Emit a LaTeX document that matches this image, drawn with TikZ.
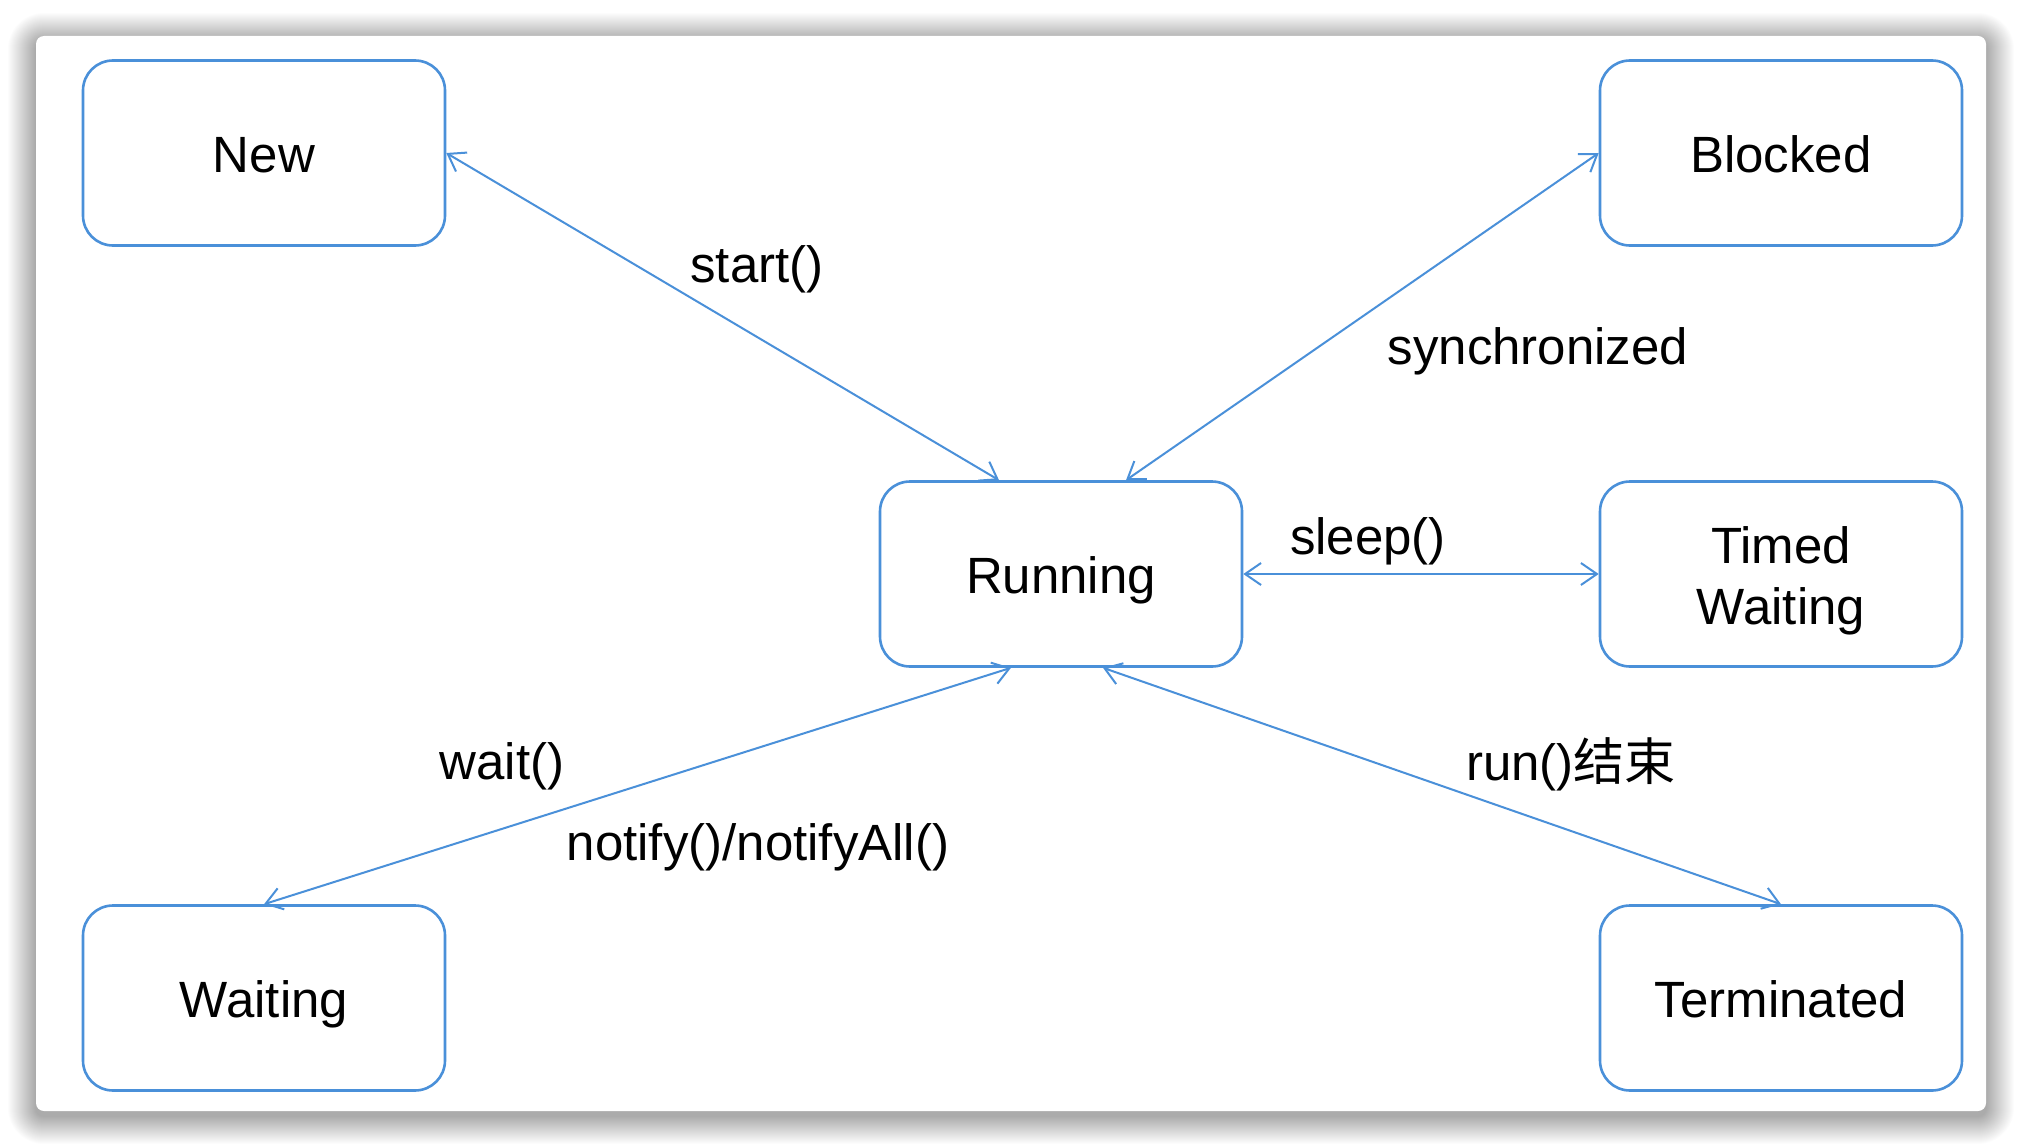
\documentclass[tikz,border=0pt]{standalone}
\usepackage{fontspec}
\setmainfont{Liberation Sans}
\newfontfamily\cjk{Noto Sans CJK SC}
\usetikzlibrary{arrows.meta}
\definecolor{lineblue}{RGB}{74,144,217}
\newcommand\boxstrut{\rule[-12pt]{0pt}{63pt}}
\begin{document}
\begin{tikzpicture}[x=1pt,y=-1pt,
  statebox/.style={draw=lineblue, line width=2.6pt, rounded corners=30pt,
    minimum width=362pt, minimum height=185pt, align=center,
    font=\fontsize{51}{61}\selectfont, inner sep=0pt, fill=white},
  conn/.style={draw=lineblue, line width=2pt,
    {Straight Barb[length=16pt,width=22pt]}-{Straight Barb[length=16pt,width=22pt]}},
  lbl/.style={font=\fontsize{51}{61}\selectfont, inner sep=0pt}]
\useasboundingbox (0,0) rectangle (2022,1148);
\fill[white] (0,0) rectangle (2022,1148);
% shadow
\foreach \i in {1,...,28}{
  \fill[black, opacity=0.010, rounded corners={8+\i}]
    ({36-\i},{36-\i+5}) rectangle ({1986+\i},{1111+\i+5});
}
% card
\fill[white, rounded corners=8pt] (36,36) rectangle (1986,1111);

% states
\node[statebox] (new) at (264,153) {\boxstrut New};
\node[statebox] (blocked) at (1781,153) {\boxstrut Blocked};
\node[statebox] (running) at (1061,574) {\boxstrut Running};
\node[statebox] (timed) at (1781,574) {\boxstrut Timed\\Waiting};
\node[statebox] (waiting) at (264,998) {\boxstrut Waiting};
\node[statebox] (term) at (1781,998) {\boxstrut Terminated};

% connectors
\draw[conn] (new.east) -- ([xshift=-62pt]running.north);
\draw[conn] ([xshift=65pt]running.north) -- (blocked.west);
\draw[conn] (running.east) -- (timed.west);
\draw[conn] (waiting.north) -- ([xshift=-50pt]running.south);
\draw[conn] ([xshift=42pt]running.south) -- (term.north);

% labels
\node[lbl] (lstart) at (757,269) {start()};
\node[lbl] (lsync) at (1538,351) {synchronized};
\node[lbl] (lsleep) at (1368,541) {sleep()};
\node[lbl] (lwait) at (502,766) {wait()};
\node[lbl] (lnotify) at (758,847) {notify()/notifyAll()};
\node[lbl] (lrun) at (1571,764) {run()\cjk{结束}};
\end{tikzpicture}
\end{document}
